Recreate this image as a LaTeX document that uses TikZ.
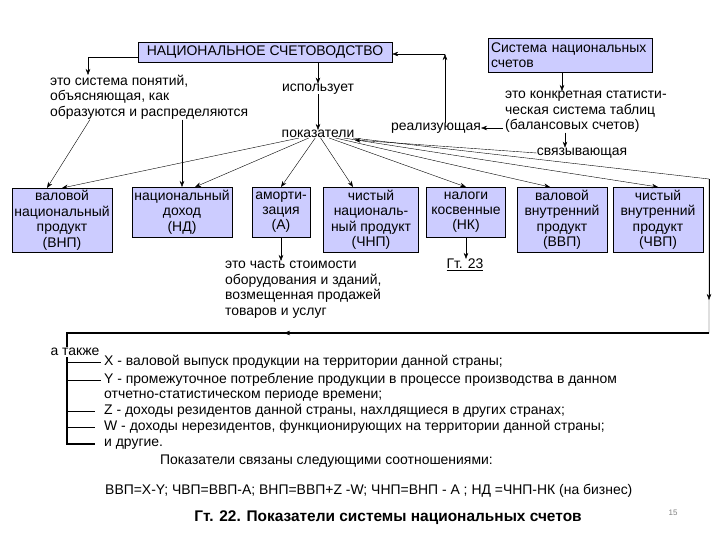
\documentclass[tikz,border=0pt]{standalone}
\usepackage{fontspec}
\setmainfont{Liberation Sans}
\usepackage{xcolor}
\usepackage{tikz}
\usetikzlibrary{arrows.meta,positioning}
\definecolor{boxblue}{RGB}{204,204,255}

\begin{document}
\begin{tikzpicture}[x=1bp, y=-1bp,
            every node/.append style = {inner sep = 0pt, font = \fontsize{14}{15.5}\selectfont},
            box/.style = {draw, fill = boxblue, align = center, anchor = north},
            note/.style = {align = left, anchor = north west},
            item/.style = {anchor = west},
            arr/.style = {-{Stealth[length=6bp, width=4.5bp]}},
            frame/.style = {line width = 1.1bp}]
            \useasboundingbox (0,0) rectangle (720,540);
            \node[box, anchor = center, minimum width = 254bp, minimum height = 20bp] (nac) at (265,52) {НАЦИОНАЛЬНОЕ СЧЕТОВОДСТВО};
            \node[box, anchor = center, minimum width = 164bp, minimum height = 34bp, text width = 158bp, align = left] (sns) at (570,55) {Система национальных\\счетов};
            \node[note] (sysp) at (50,75) {это система понятий,\\объясняющая, как\\образуются и распределяются};
            \node (uses) at (318,89) {использует};
            \node (pok) at (318,134) {показатели};
            \node[note] (konkr) at (505,91) {это конкретная статисти-\\ческая система таблиц\\(балансовых счетов)};
            \node (realiz) at (436,128) {реализующая};
            \node (svyaz) at (582,153) {связывающая};
            \node[box, minimum width = 100bp, minimum height = 64bp] (vnp) at (62,188) {валовой\\национальный\\продукт\\(ВНП)};
            \node[box, minimum width = 100bp, minimum height = 50bp] (nd) at (182,187) {национальный\\доход\\(НД)};
            \node[box, minimum width = 58bp, minimum height = 50bp] (am) at (281,187) {аморти-\\зация\\(А)};
            \node[box, minimum width = 95bp, minimum height = 65bp] (chnp) at (371,187) {чистый\\националь-\\ный продукт\\(ЧНП)};
            \node[box, minimum width = 79bp, minimum height = 50bp] (nk) at (466,187) {налоги\\косвенные\\(НК)};
            \node[box, minimum width = 90bp, minimum height = 65bp] (vvp) at (562,187) {валовой\\внутренний\\продукт\\(ВВП)};
            \node[box, minimum width = 90bp, minimum height = 65bp] (chvp) at (658,187) {чистый\\внутренний\\продукт\\(ЧВП)};
            \node[note] (chast) at (225,261) {это часть стоимости\\оборудования и зданий,\\возмещенная продажей\\товаров и услуг};
            \node (gt) at (465,265) {\underline{Гт. 23}};
            \node[item] (itx) at (104,362) {X - валовой выпуск продукции на территории данной страны;};
            \node[item] (ity) at (104,380) {Y - промежуточное потребление продукции в процессе производства в данном};
            \node[item] (ity2) at (104,396) {отчетно-статистическом периоде времени;};
            \node[item] (itz) at (104,411) {Z - доходы резидентов данной страны, нахлдящиеся в других странах;};
            \node[item] (itw) at (104,427) {W - доходы нерезидентов, функционирующих на территории данной страны;};
            \node[item] (itdr) at (104,444) {и другие.};
            \node[item] (rel) at (160,461) {Показатели связаны следующими соотношениями:};
            \node[item] (formula) at (105,491) {ВВП=X-Y; ЧВП=ВВП-А; ВНП=ВВП+Z -W; ЧНП=ВНП - А ; НД =ЧНП-НК (на бизнес)};
            \node[font = \fontsize{15.5}{17}\selectfont\bfseries] (caption) at (388,518) {Гт. 22. Показатели системы национальных счетов};
            \node[text = gray, font = \fontsize{8}{9}\selectfont] (page) at (673,513) {15};
            \coordinate (ne) at (709,179);
            \coordinate (nemid) at (709,300);
            \coordinate (se) at (709,333);
            \coordinate (smid) at (284,333);
            \coordinate (sw) at (67,333);
            \coordinate (bw) at (67,445);
            \coordinate (realizup) at (445,54);
            \draw[arr] ([yshift=-5bp]nac.west) -| ([xshift=38bp]sysp.north west);
            \draw[arr] (nac.south -| uses) -- (uses.north);
            \draw[arr] (uses.south) -- (pok.north);
            \draw[arr] ([xshift=-8bp]sns.south) -- ([xshift=-8bp]sns.south |- konkr.north);
            \draw[arr] ([xshift=-2bp]konkr.west |- realiz) -- (realiz.east);
            \draw[arr] (realiz.north -| realizup) -- (realizup);
            \draw[arr] (realizup) -- (realizup -| nac.east);
            \draw[arr] ([xshift=-17bp]svyaz.north |- konkr.south) -- ([xshift=-17bp]svyaz.north);
            \draw[arr] (svyaz.west) -- ([yshift=-6bp]pok.east);
            \draw[arr] ([xshift=40bp]sysp.south west) -- ([xshift=-15bp]vnp.north);
            \draw[arr] (sysp.south -| nd.north) -- (nd.north);
            \draw[arr] (pok) -- (vnp.north);
            \draw[arr] (pok) -- ([xshift=13bp]nd.north);
            \draw[arr] (pok) -- (am.north);
            \draw[arr] (pok) -- ([xshift=-18bp]chnp.north);
            \draw[arr] (pok) -- (nk.north);
            \draw[arr] (pok) -- ([xshift=-12bp]vvp.north);
            \draw[arr] (pok) -- (chvp.north);
            \draw (pok) -- (ne) -- (se);
            \draw[arr] (ne) -- (nemid);
            \draw[frame] (se) -- (sw) -- (bw);
            \draw[arr] (se) -- (smid);
            \draw[arr] (am.south) -- (am.south |- chast.north);
            \draw[arr] (nk.south) -- (nk.south |- gt.north);
            \draw (sw |- itx) -- ([xshift=-3bp]itx.west);
            \draw (sw |- ity) -- ([xshift=-3bp]ity.west);
            \draw (sw |- itz) -- ([xshift=-9bp]itz.west);
            \draw (sw |- itw) -- ([xshift=-9bp]itw.west);
            \draw[frame] (sw |- itdr) -- ([xshift=-9bp]itdr.west);
            \node[fill = white, inner sep = 1bp] (also) at (75,352) {а также};
        \end{tikzpicture}
\end{document}
